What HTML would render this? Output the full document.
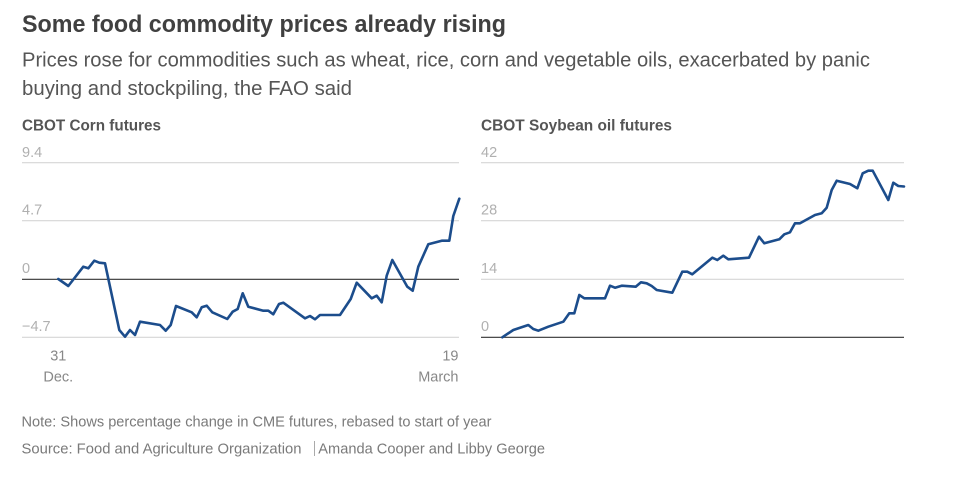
<!DOCTYPE html>
<html>
<head>
<meta charset="utf-8">
<style>
  html, body { margin:0; padding:0; background:#fff; }
  body { width:961px; height:494px; overflow:hidden; }
  svg { display:block; }
  text { font-family: "Liberation Sans", "DejaVu Sans", sans-serif; }
</style>
</head>
<body>
<svg width="961" height="494" viewBox="0 0 961 494" xmlns="http://www.w3.org/2000/svg">
  <rect width="961" height="494" fill="#fff"/>

  <!-- Title / subtitle -->
  <text x="22" y="32" font-size="24" font-weight="bold" fill="#404040" textLength="484" lengthAdjust="spacingAndGlyphs">Some food commodity prices already rising</text>
  <text x="22" y="66.5" font-size="20" fill="#555" textLength="848" lengthAdjust="spacingAndGlyphs">Prices rose for commodities such as wheat, rice, corn and vegetable oils, exacerbated by panic</text>
  <text x="22" y="95" font-size="20" fill="#555" textLength="330" lengthAdjust="spacingAndGlyphs">buying and stockpiling, the FAO said</text>

  <!-- Left chart -->
  <text x="22" y="130.5" font-size="16" font-weight="bold" fill="#555" textLength="139" lengthAdjust="spacingAndGlyphs">CBOT Corn futures</text>
  <g stroke="#d6d6d6" stroke-width="1.2">
    <line x1="22" y1="162.7" x2="459" y2="162.7"/>
    <line x1="22" y1="220.7" x2="459" y2="220.7"/>
    <line x1="22" y1="337.3" x2="459" y2="337.3"/>
  </g>
  <line x1="22" y1="279.3" x2="459" y2="279.3" stroke="#333" stroke-width="1.2"/>
  <g font-size="14.5" fill="#b0b0b0">
    <text x="22" y="157">9.4</text>
    <text x="22" y="214.5">4.7</text>
    <text x="22" y="272.8">0</text>
    <text x="22" y="331">−4.7</text>
  </g>
  <g font-size="14.5" fill="#888">
    <text x="58.3" y="360.7" text-anchor="middle">31</text>
    <text x="58.3" y="381.7" text-anchor="middle">Dec.</text>
    <text x="458.5" y="360.7" text-anchor="end">19</text>
    <text x="458.5" y="381.7" text-anchor="end">March</text>
  </g>
  <polyline fill="none" stroke="#1c4d8c" stroke-width="2.6" stroke-linejoin="round" stroke-linecap="round"
    points="58.3,279 68.3,286 83.3,266.7 88.3,268.3 94.3,260.7 99.3,262.7 105,263.3 119.3,330 125,336.7 130,330 135,335 140,321.7 160,325 165.7,330.7 170.7,325 176,306 191.7,312.3 196.7,317.3 201.7,307.3 206.7,305.7 212.3,312.3 227.3,319 232.7,311.7 237.7,309 242.7,293.3 248.3,306.7 263.3,310.7 268.3,310.7 273.3,314.3 279,304 283.3,302.7 305,318.3 310,316 315,319.3 320,315 340,315 350.7,299 356.7,282.7 371.7,298.3 376.7,295.7 381.7,302.3 386.7,275.7 392.3,260 407.3,286.7 412.7,290.7 418.3,266.7 428.3,244.3 441.7,240.7 449.3,240.7 453.3,216 459.3,198.7"/>

  <!-- Right chart -->
  <text x="481" y="130.5" font-size="16" font-weight="bold" fill="#555" textLength="191" lengthAdjust="spacingAndGlyphs">CBOT Soybean oil futures</text>
  <g stroke="#d6d6d6" stroke-width="1.2">
    <line x1="481" y1="162.7" x2="904" y2="162.7"/>
    <line x1="481" y1="220.7" x2="904" y2="220.7"/>
    <line x1="481" y1="279.3" x2="904" y2="279.3"/>
  </g>
  <line x1="481" y1="337.3" x2="904" y2="337.3" stroke="#333" stroke-width="1.2"/>
  <g font-size="14.5" fill="#b0b0b0">
    <text x="481" y="157">42</text>
    <text x="481" y="214.5">28</text>
    <text x="481" y="272.8">14</text>
    <text x="481" y="331">0</text>
  </g>
  <polyline fill="none" stroke="#1c4d8c" stroke-width="2.6" stroke-linejoin="round" stroke-linecap="round"
    points="502.3,337.3 513.3,330 528.3,325 533.3,329 538.3,330.7 548.3,326.7 563.3,321.7 569.3,313.3 574.3,313.3 579.3,295 584.3,298.3 605,298.3 610,285.7 615,287.7 621.7,285.7 635.7,286.7 641,282.3 646.7,283.3 651.7,286 656.7,290 672.3,292.7 682.3,271.7 687.3,271.7 692.3,274.3 712.3,257.7 717.3,260 723.3,255.7 728.3,259.3 749,257.7 759,236.7 764.3,243.3 779.3,239.3 784.3,234.3 790,232.3 795,223.3 800,223.3 815,215 821.7,213.3 826.7,207.7 831.7,190 836.7,180.7 850,184 857.3,188.3 862.7,173.3 868.3,170.7 872.7,170.7 888.3,200 893.3,182.7 898.3,186 904,186.5"/>

  <!-- Footer -->
  <g font-size="14.5" fill="#7a7a7a">
    <text x="21.5" y="426.7" textLength="470" lengthAdjust="spacingAndGlyphs">Note: Shows percentage change in CME futures, rebased to start of year</text>
    <text x="21.5" y="453.3" textLength="280" lengthAdjust="spacingAndGlyphs">Source: Food and Agriculture Organization</text>
    <text x="318.3" y="453.3" textLength="226.7" lengthAdjust="spacingAndGlyphs">Amanda Cooper and Libby George</text>
  </g>
  <line x1="314.5" y1="441" x2="314.5" y2="456" stroke="#aaa" stroke-width="1"/>
</svg>
</body>
</html>
